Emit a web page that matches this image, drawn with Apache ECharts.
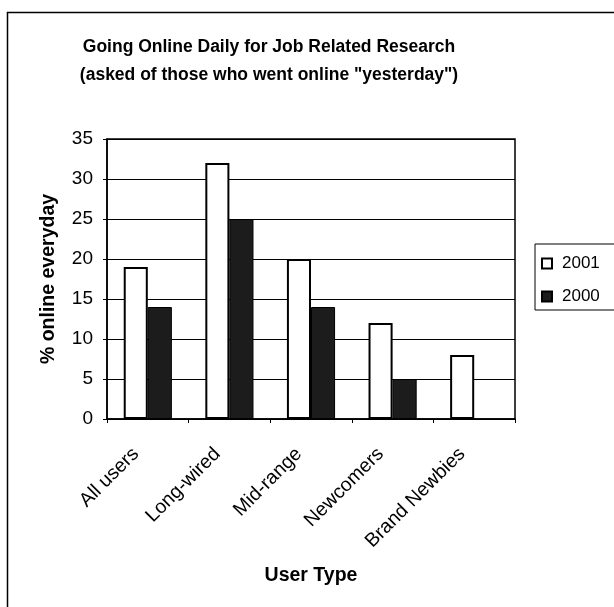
<!DOCTYPE html>
<html>
<head>
<meta charset="utf-8">
<script src="https://cdn.jsdelivr.net/npm/echarts@6/dist/echarts.min.js"></script>
<style>
html,body{margin:0;padding:0;background:#fff;}
#c{width:614px;height:607px;}
</style>
</head>
<body>
<div id="c"></div>
<script>
const categories = ['All users', 'Long-wired', 'Mid-range', 'Newcomers', 'Brand Newbies'];
const values2001 = [19, 32, 20, 12, 8];
const values2000 = [14, 25, 14, 5, null];
const seriesNames = ['2001', '2000'];
const yTicks = { min: 0, max: 35, interval: 5 };

const FONT = '"Liberation Sans", Arial, sans-serif';
const chart = echarts.init(document.getElementById('c'), null, { renderer: 'canvas' });
chart.setOption({
  backgroundColor: '#fff',
  animation: false,
  graphic: [{
    type: 'rect', silent: true,
    shape: { x: 7.5, y: 12.5, width: 700, height: 700 },
    style: { fill: 'none', stroke: '#000', lineWidth: 1.5 }
  }],
  title: {
    text: 'Going Online Daily for Job Related Research\n(asked of those who went online "yesterday")',
    left: 264, top: 28, textAlign: 'center',
    textStyle: { fontFamily: FONT, fontSize: 17.5, fontWeight: 'bold', color: '#000', lineHeight: 28 }
  },
  legend: {
    data: seriesNames,
    orient: 'vertical',
    left: 535, top: 244,
    padding: [11, 28, 5, 6],
    itemGap: 16,
    itemWidth: 10, itemHeight: 10,
    icon: 'rect',
    borderColor: '#000', borderWidth: 1,
    textStyle: { fontFamily: FONT, fontSize: 17, color: '#000', padding: [0, 0, 0, 5] }
  },
  grid: { left: 107, right: 99, top: 139, bottom: 188, show: true, borderColor: '#000', borderWidth: 1.5 },
  xAxis: {
    type: 'category', data: categories,
    name: 'User Type', nameLocation: 'middle', nameGap: 147,
    nameTextStyle: { fontFamily: FONT, fontSize: 19.5, fontWeight: 'bold', color: '#000' },
    axisLine: { lineStyle: { color: '#000', width: 1.5 } },
    axisTick: { show: true, length: 4, lineStyle: { color: '#000' } },
    axisLabel: { rotate: 45, interval: 0, margin: 20, padding: [0, 17, 0, 0], fontFamily: FONT, fontSize: 19.5, color: '#000' }
  },
  yAxis: {
    type: 'value', min: yTicks.min, max: yTicks.max, interval: yTicks.interval,
    name: '% online everyday', nameLocation: 'middle', nameGap: 48, nameRotate: 90,
    nameTextStyle: { fontFamily: FONT, fontSize: 19.5, fontWeight: 'bold', color: '#000' },
    axisLine: { show: true, lineStyle: { color: '#000', width: 1.5 } },
    axisTick: { show: true, length: 4, lineStyle: { color: '#000' } },
    axisLabel: { margin: 14, fontFamily: FONT, fontSize: 19, color: '#000' },
    splitLine: { show: true, lineStyle: { color: '#000', width: 1 } }
  },
  series: [
    {
      name: seriesNames[0], type: 'bar', data: values2001,
      barGap: '0%', barCategoryGap: '41%',
      itemStyle: { color: '#fff', borderColor: '#000', borderWidth: 2 }
    },
    {
      name: seriesNames[1], type: 'bar', data: values2000,
      itemStyle: { color: '#1c1c1c', borderColor: '#000', borderWidth: 1 }
    }
  ]
});
</script>
</body>
</html>
